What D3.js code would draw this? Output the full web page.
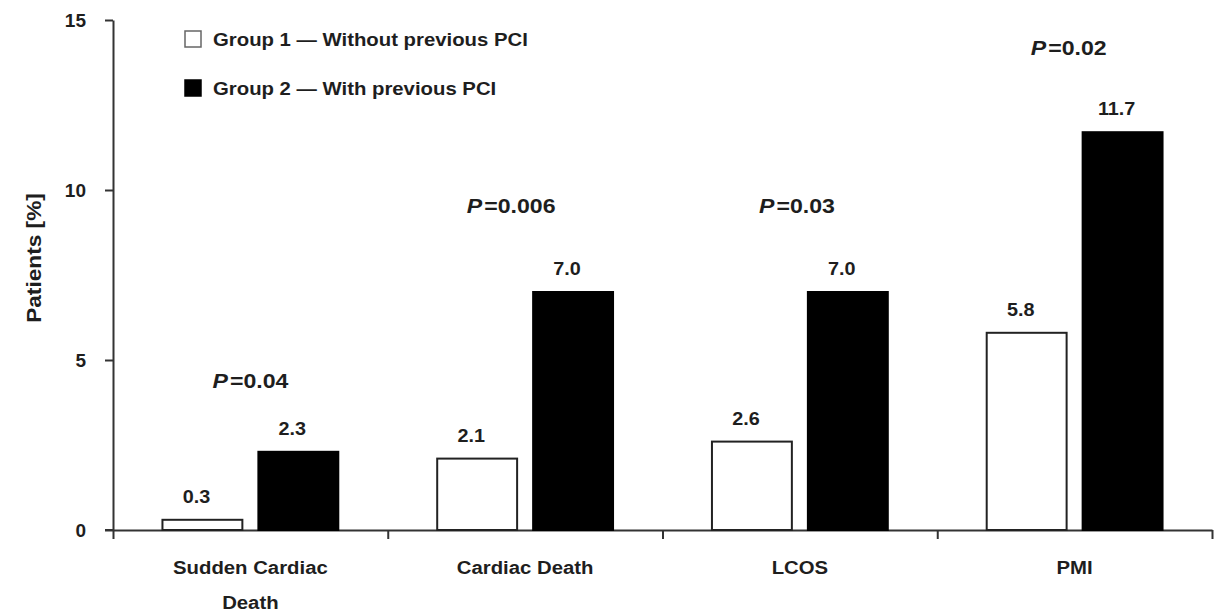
<!DOCTYPE html>
<html>
<head>
<meta charset="utf-8">
<script src="https://cdn.jsdelivr.net/npm/d3@7"></script>
<style>
  html, body { margin: 0; padding: 0; background: #fff; }
  svg { display: block; font-family: "Liberation Sans", Arial, Helvetica, sans-serif; }
</style>
</head>
<body>
<script>
// Outcome categories (label lines for the x axis)
const categories = ["Sudden Cardiac Death", "Cardiac Death", "LCOS", "PMI"];
const categoryLines = [["Sudden Cardiac", "Death"], ["Cardiac Death"], ["LCOS"], ["PMI"]];

// Percent of patients per group
const seriesNames = ["Group 1 \u2014 Without previous PCI", "Group 2 \u2014 With previous PCI"];
const group1 = [0.3, 2.1, 2.6, 5.8];
const group2 = [2.3, 7.0, 7.0, 11.7];

// Significance per category
const pValues = ["0.04", "0.006", "0.03", "0.02"];

// Y axis ticks
const yTicks = [0, 5, 10, 15];

// ---- layout ----
const W = 1227, H = 612;
const textColor = "#1e1e1e";
const axisColor = "#333";
const pLift = [64, 79, 79, 77];     // gap between tallest bar and its P label
const pShift = [0, -14, -3, -6];    // horizontal nudge of each P label

const svg = d3.select("body").append("svg")
  .attr("width", W).attr("height", H);

const y = d3.scaleLinear().domain([0, 15]).range([530, 20]);
const x0 = d3.scaleBand().domain(categories).range([113, 1212])
  .paddingInner(0.36).paddingOuter(0.18);
const x1 = d3.scaleBand().domain(["g1", "g2"]).range([0, x0.bandwidth()])
  .paddingInner(0.167);
const edges = d3.scaleLinear().domain([0, categories.length]).range([113, 1212]);

// text helper: slightly widened glyphs
function addText(parent, x, yPos, txt, size, opts = {}) {
  const sx = opts.sx || 1.12;
  const rot = opts.rotate ? ` rotate(${opts.rotate})` : "";
  return parent.append("text")
    .attr("transform", `translate(${x},${yPos})${rot} scale(${sx},1)`)
    .attr("text-anchor", opts.anchor || "middle")
    .attr("font-size", size)
    .attr("font-weight", "bold")
    .attr("fill", textColor)
    .text(txt);
}

// ---- axes ----
const yAxis = svg.append("g")
  .attr("transform", "translate(113,0)")
  .call(d3.axisLeft(y).tickValues(yTicks).tickSize(8).tickSizeOuter(0).tickPadding(19));
yAxis.selectAll("text")
  .attr("font-size", 19).attr("font-weight", "bold").attr("fill", textColor)
  .attr("font-family", "Liberation Sans, Arial, sans-serif");

const xAxis = svg.append("g")
  .attr("transform", "translate(0,530)")
  .call(d3.axisBottom(edges).tickValues(d3.range(categories.length + 1))
    .tickFormat("").tickSize(9).tickSizeOuter(0));

svg.selectAll(".domain, .tick line")
  .attr("stroke", axisColor).attr("stroke-width", 2);

// short stub of the baseline left of the y axis
svg.append("line")
  .attr("x1", 105).attr("x2", 113).attr("y1", y(0)).attr("y2", y(0))
  .attr("stroke", axisColor).attr("stroke-width", 2);

// ---- bars ----
const rows = categories.map((c, i) => ({ cat: c, i, vals: [
  { key: "g1", v: group1[i] }, { key: "g2", v: group2[i] }
] }));

const groups = svg.append("g").selectAll("g")
  .data(rows).join("g")
  .attr("transform", d => `translate(${x0(d.cat)},0)`);

groups.selectAll("rect")
  .data(d => d.vals).join("rect")
  .attr("x", d => x1(d.key))
  .attr("width", x1.bandwidth())
  .attr("y", d => y(d.v))
  .attr("height", d => y(0) - y(d.v))
  .attr("fill", d => d.key === "g1" ? "#fff" : "#000")
  .attr("stroke", d => d.key === "g1" ? "#222" : "#000")
  .attr("stroke-width", 2);

// value labels
rows.forEach(r => {
  r.vals.forEach(d => {
    addText(svg, x0(r.cat) + x1(d.key) + x1.bandwidth() / 2 - 6, y(d.v) - 17,
      d.v.toFixed(1), 18, { sx: 1.1 });
  });
});

// P-value annotations
rows.forEach(r => {
  const top = y(Math.max(group1[r.i], group2[r.i]));
  const t = svg.append("text")
    .attr("transform", `translate(${x0(r.cat) + x0.bandwidth() / 2 + pShift[r.i]},${top - pLift[r.i]}) scale(1.1,1)`)
    .attr("text-anchor", "middle")
    .attr("font-size", 21).attr("font-weight", "bold").attr("fill", textColor);
  t.append("tspan").attr("font-style", "italic").text("P");
  t.append("tspan").attr("dx", 2).text("=" + pValues[r.i]);
});

// category labels
rows.forEach((r, i) => {
  categoryLines[i].forEach((line, k) => {
    addText(svg, x0(r.cat) + x0.bandwidth() / 2, 574 + k * 35, line, 18, { sx: 1.13 });
  });
});

// y axis title
addText(svg, 34, 258, "Patients [%]", 21, { sx: 1.08, rotate: -90 })
  .attr("dominant-baseline", "central");

// ---- legend ----
const legend = svg.append("g");
const legendRows = [
  { name: seriesNames[0], fill: "#fff", stroke: "#666", cy: 39 },
  { name: seriesNames[1], fill: "#000", stroke: "#000", cy: 88 }
];
legendRows.forEach(d => {
  legend.append("rect")
    .attr("x", 185).attr("y", d.cy - 8).attr("width", 16).attr("height", 16)
    .attr("fill", d.fill).attr("stroke", d.stroke).attr("stroke-width", 1.5);
  addText(legend, 213, d.cy + 6.5, d.name, 18, { sx: 1.13, anchor: "start" });
});
</script>
</body>
</html>
